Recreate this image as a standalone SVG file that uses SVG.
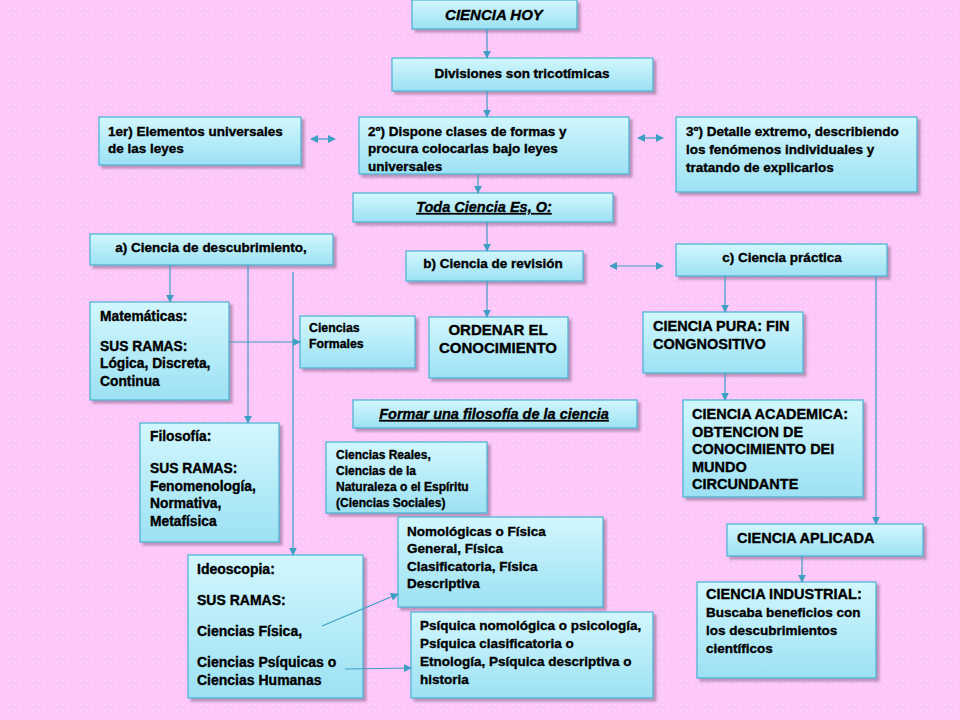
<svg xmlns="http://www.w3.org/2000/svg" width="960" height="720" viewBox="0 0 960 720">
<defs>
<style>
.box{fill:url(#g);stroke:#46b2d3;stroke-width:1.2;filter:url(#sh)}
text{font-family:"Liberation Sans",Arial,sans-serif;font-weight:bold;fill:#000;stroke:#000;stroke-width:0.35;font-size:13.5px}
.c{text-anchor:middle}
.it{font-style:italic}
.u{text-decoration:underline}
.cap{font-size:14.5px}
.m{font-size:13.8px}
.sm{font-size:12.3px}
.con{fill:none;stroke:#3c9fc3;stroke-width:1.2;marker-end:url(#a)}
.dbl{marker-start:url(#a)}
</style>
<linearGradient id="g" x1="0" y1="0" x2="0" y2="1"><stop offset="0" stop-color="#d2f7fd"/><stop offset="1" stop-color="#9ce1f3"/></linearGradient>
<pattern id="dots" width="6" height="6" patternUnits="userSpaceOnUse"><rect width="6" height="6" fill="#fdc7f9"/><rect x="2" y="2" width="1" height="1" fill="#ffe8ff"/></pattern>
<filter id="sh" x="-10%" y="-10%" width="130%" height="150%"><feDropShadow dx="3" dy="3" stdDeviation="1.2" flood-color="#7a5a7a" flood-opacity="0.5"/></filter>
<marker id="a" viewBox="0 0 10 10" refX="9" refY="5" markerWidth="8" markerHeight="8" markerUnits="userSpaceOnUse" orient="auto-start-reverse"><path d="M0,0 L10,5 L0,10 z" fill="#3c9fc3"/></marker>
</defs>
<rect width="960" height="720" fill="url(#dots)"/>

<g id="n-ciencia-hoy"><rect class="box" x="412" y="0" width="165" height="29"/><text class="c it" style="font-size:15px" x="494" y="20">CIENCIA HOY</text></g>
<g id="n-divisiones"><rect class="box" x="392" y="58" width="261" height="33"/><text class="c" x="522" y="78">Divisiones son tricotímicas</text></g>
<g id="n-primero"><rect class="box" x="99" y="117" width="202" height="48"/><text x="108" y="136">1er) Elementos universales<tspan x="108" y="153">de las leyes</tspan></text></g>
<g id="n-segundo"><rect class="box" x="359" y="117" width="270" height="57"/><text x="368" y="136">2º) Dispone clases de formas y<tspan x="368" y="153">procura colocarlas bajo leyes</tspan><tspan x="368" y="171">universales</tspan></text></g>
<g id="n-tercero"><rect class="box" x="676" y="117" width="241" height="75"/><text x="686" y="136">3º) Detalle extremo, describiendo<tspan x="686" y="154">los fenómenos individuales y</tspan><tspan x="686" y="172">tratando de explicarlos</tspan></text></g>
<g id="n-toda"><rect class="box" x="353" y="193" width="260" height="29"/><text class="c it u cap" x="484" y="212">Toda Ciencia Es, O:</text></g>
<g id="n-a"><rect class="box" x="90" y="234" width="243" height="31"/><text class="c" x="211" y="252">a) Ciencia de descubrimiento,</text></g>
<g id="n-b"><rect class="box" x="406" y="251" width="177" height="30"/><text class="c" x="493" y="268">b) Ciencia de revisión</text></g>
<g id="n-c"><rect class="box" x="676" y="244" width="211" height="32"/><text class="c" x="782" y="262">c) Ciencia práctica</text></g>
<g id="n-matematicas"><rect class="box" x="90" y="302" width="139" height="98"/><text class="m" x="100" y="321">Matemáticas:<tspan x="100" y="351">SUS RAMAS:</tspan><tspan x="100" y="368">Lógica, Discreta,</tspan><tspan x="100" y="386">Continua</tspan></text></g>
<g id="n-formales"><rect class="box" x="300" y="316" width="115" height="52"/><text class="sm" x="309" y="332">Ciencias<tspan x="309" y="348">Formales</tspan></text></g>
<g id="n-ordenar"><rect class="box" x="429" y="317" width="139" height="61"/><text class="c" style="font-size:15px" x="498" y="335">ORDENAR EL<tspan x="498" y="353">CONOCIMIENTO</tspan></text></g>
<g id="n-pura"><rect class="box" x="643" y="312" width="160" height="61"/><text class="cap" x="653" y="331">CIENCIA PURA: FIN<tspan x="653" y="349">CONGNOSITIVO</tspan></text></g>
<g id="n-formar"><rect class="box" x="353" y="400" width="284" height="28"/><text class="c it u cap" x="494" y="419">Formar una filosofía de la ciencia</text></g>
<g id="n-filosofia"><rect class="box" x="140" y="423" width="139" height="119"/><text class="m" x="150" y="441">Filosofía:<tspan x="150" y="473">SUS RAMAS:</tspan><tspan x="150" y="491">Fenomenología,</tspan><tspan x="150" y="508">Normativa,</tspan><tspan x="150" y="526">Metafísica</tspan></text></g>
<g id="n-reales"><rect class="box" x="326" y="442" width="161" height="71"/><text class="sm" style="font-size:12px" x="336" y="459">Ciencias Reales,<tspan x="336" y="475">Ciencias de la</tspan><tspan x="336" y="491">Naturaleza  o el Espíritu</tspan><tspan x="336" y="507">(Ciencias Sociales)</tspan></text></g>
<g id="n-academica"><rect class="box" x="683" y="400" width="180" height="97"/><text class="cap" x="692" y="419">CIENCIA ACADEMICA:<tspan x="692" y="437">OBTENCION DE</tspan><tspan x="692" y="454">CONOCIMIENTO DEI</tspan><tspan x="692" y="472">MUNDO</tspan><tspan x="692" y="489">CIRCUNDANTE</tspan></text></g>
<g id="n-ideoscopia"><rect class="box" x="188" y="555" width="175" height="143"/><text style="font-size:14px" x="197" y="574">Ideoscopia:<tspan x="197" y="605">SUS RAMAS:</tspan><tspan x="197" y="636">Ciencias Física,</tspan><tspan x="197" y="667">Ciencias Psíquicas  o</tspan><tspan x="197" y="685">Ciencias Humanas</tspan></text></g>
<g id="n-nomologicas"><rect class="box" x="398" y="517" width="205" height="90"/><text x="407" y="536">Nomológicas o Física<tspan x="407" y="553">General, Física</tspan><tspan x="407" y="571">Clasificatoria, Física</tspan><tspan x="407" y="588">Descriptiva</tspan></text></g>
<g id="n-psiquica"><rect class="box" x="411" y="612" width="242" height="86"/><text x="420" y="630">Psíquica nomológica o psicología,<tspan x="420" y="648">Psíquica clasificatoria o</tspan><tspan x="420" y="666">Etnología, Psíquica descriptiva o</tspan><tspan x="420" y="684">historia</tspan></text></g>
<g id="n-aplicada"><rect class="box" x="727" y="524" width="196" height="32"/><text class="cap" x="737" y="543">CIENCIA APLICADA</text></g>
<g id="n-industrial"><rect class="box" x="697" y="582" width="179" height="96"/><text x="706" y="599"><tspan class="cap">CIENCIA INDUSTRIAL:</tspan><tspan x="706" y="617">Buscaba beneficios con</tspan><tspan x="706" y="635">los descubrimientos</tspan><tspan x="706" y="653">científicos</tspan></text></g>

<g id="connectors">
<line class="con" x1="487" y1="29" x2="487" y2="58"/>
<line class="con" x1="487" y1="91" x2="487" y2="117"/>
<line class="con dbl" x1="311" y1="139" x2="335" y2="139"/>
<line class="con dbl" x1="638" y1="138" x2="663" y2="138"/>
<line class="con" x1="478" y1="174" x2="478" y2="193"/>
<line class="con" x1="487" y1="222" x2="487" y2="251"/>
<line class="con dbl" x1="610" y1="266" x2="663" y2="266"/>
<line class="con" x1="170" y1="265" x2="170" y2="302"/>
<line class="con" x1="248" y1="265" x2="248" y2="423"/>
<line class="con" x1="293" y1="272" x2="293" y2="555"/>
<line class="con" x1="229" y1="342" x2="300" y2="342"/>
<line class="con" x1="487" y1="281" x2="487" y2="317"/>
<line class="con" x1="725" y1="276" x2="725" y2="312"/>
<line class="con" x1="725" y1="373" x2="725" y2="400"/>
<line class="con" x1="876" y1="276" x2="876" y2="524"/>
<line class="con" x1="802" y1="556" x2="802" y2="582"/>
<line class="con" x1="322" y1="626" x2="398" y2="594"/>
<line class="con" x1="345" y1="669" x2="411" y2="668"/>
</g>
</svg>
